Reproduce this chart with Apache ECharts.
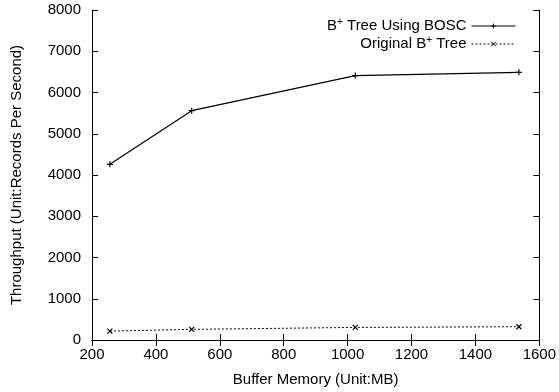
<!DOCTYPE html>
<html>
<head>
<meta charset="utf-8">
<script src="https://cdn.jsdelivr.net/npm/echarts@6/dist/echarts.min.js"></script>
<style>
  html, body { margin: 0; padding: 0; background: #fff; }
  #chart { width: 559px; height: 392px; }
</style>
</head>
<body>
<div id="chart"></div>
<script>
// buffer sizes (MB)
const bufferSizes = [256, 512, 1024, 1536];
// throughput, records per second
const boscValues = [4260, 5560, 6410, 6490];
const originalValues = [215, 258, 305, 322];

const FONT = '"Liberation Sans", Arial, sans-serif';
const PLUS = 'path://M0,5L10,5M5,0L5,10';
const CROSS = 'path://M0,0L10,10M10,0L0,10';

const chart = echarts.init(document.getElementById('chart'));

const axisCommon = {
  axisLine: { lineStyle: { color: '#000', width: 1 } },
  axisTick: { inside: true, length: 6, lineStyle: { color: '#000' } },
  splitLine: { show: false },
};

const option = {
  animation: false,
  textStyle: { fontFamily: FONT },
  grid: { left: 92, right: 19, top: 10, bottom: 49 },
  legend: {
    right: 38,
    top: 12,
    orient: 'vertical',
    align: 'right',
    itemWidth: 44,
    itemHeight: 6,
    itemGap: 0,
    lineStyle: { width: 1 },
    itemStyle: { borderWidth: 1 },
    textStyle: {
      fontFamily: FONT, fontSize: 15, color: '#000', lineHeight: 18,
      rich: { sup: { fontSize: 10, verticalAlign: 'top', lineHeight: 10, padding: [0, 0, 6, 0], fontFamily: FONT } }
    },
    formatter: (name) => name === 'bosc' ? 'B{sup|+} Tree Using BOSC' : 'Original B{sup|+} Tree',
  },
  xAxis: [
    Object.assign({
      type: 'value', min: 200, max: 1600, interval: 200,
      name: 'Buffer Memory (Unit:MB)', nameLocation: 'middle', nameGap: 32,
      nameTextStyle: { fontFamily: FONT, fontSize: 15, color: '#000' },
      axisLabel: { fontFamily: FONT, fontSize: 15, color: '#000', margin: 7, formatter: (v) => String(v) },
    }, axisCommon),
    Object.assign({
      type: 'value', min: 200, max: 1600, interval: 200, position: 'top',
      axisLabel: { show: false },
    }, axisCommon),
  ],
  yAxis: [
    Object.assign({
      type: 'value', min: 0, max: 8000, interval: 1000,
      name: 'Throughput (Unit:Records Per Second)', nameLocation: 'middle', nameGap: 68,
      nameTextStyle: { fontFamily: FONT, fontSize: 15, color: '#000' },
      axisLabel: { fontFamily: FONT, fontSize: 15, color: '#000', margin: 11, formatter: (v) => String(v) },
    }, axisCommon),
    Object.assign({
      type: 'value', min: 0, max: 8000, interval: 1000, position: 'right',
      axisLabel: { show: false },
    }, axisCommon),
  ],
  series: [
    {
      name: 'bosc',
      type: 'line',
      data: bufferSizes.map((x, i) => [x, boscValues[i]]),
      symbol: PLUS,
      symbolSize: 6,
      lineStyle: { color: '#000', width: 1.2 },
      itemStyle: { color: 'none', borderColor: '#000', borderWidth: 1.2 },
    },
    {
      name: 'original',
      type: 'line',
      data: bufferSizes.map((x, i) => [x, originalValues[i]]),
      symbol: CROSS,
      symbolSize: 5,
      lineStyle: { color: '#000', width: 1, type: [2, 2] },
      itemStyle: { color: 'none', borderColor: '#000', borderWidth: 1.2 },
    },
  ],
};

chart.setOption(option);
</script>
</body>
</html>
